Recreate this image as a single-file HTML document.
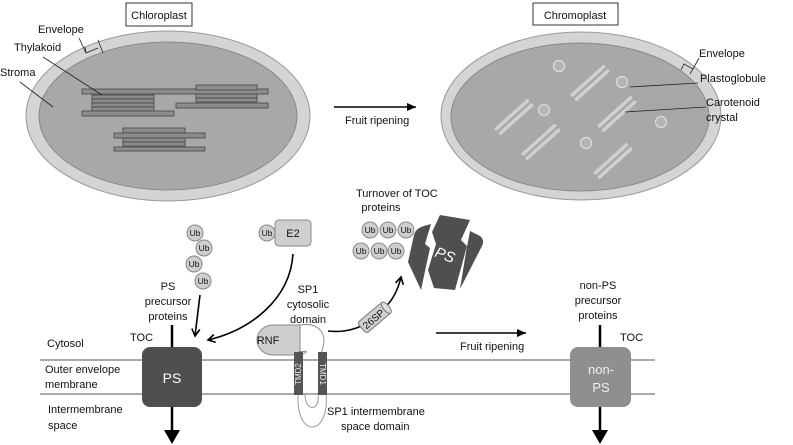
<!DOCTYPE html>
<html><head><meta charset="utf-8"><style>
html,body{margin:0;padding:0;background:#fff;}
svg{display:block;font-family:"Liberation Sans",sans-serif;}
</style></head><body>
<svg width="793" height="445" viewBox="0 0 793 445" xmlns="http://www.w3.org/2000/svg">
<defs>
<marker id="ah" markerWidth="10" markerHeight="10" refX="8" refY="5" orient="auto" markerUnits="userSpaceOnUse"><path d="M1,1 L8,5 L1,9" fill="none" stroke="#000" stroke-width="1.6"/></marker>
<marker id="at" markerWidth="10" markerHeight="10" refX="9" refY="5" orient="auto" markerUnits="userSpaceOnUse"><path d="M0,1 L9,5 L0,9 Z" fill="#000"/></marker>
</defs>
<g font-size="11.5" fill="#111">
<!-- Chloroplast -->
<rect x="126" y="3" width="66" height="23" fill="#fff" stroke="#333"/>
<text x="159" y="19" text-anchor="middle" font-size="11">Chloroplast</text>
<ellipse cx="168" cy="116" rx="142" ry="85" fill="#d4d4d4" stroke="#999"/>
<ellipse cx="168" cy="116" rx="129" ry="74" fill="#a8a8a8" stroke="#888"/>
<g fill="#8c8c8c" stroke="#444" stroke-width="0.8">
<rect x="82" y="89" width="186" height="5"/>
<rect x="92" y="95" width="62" height="4"/><rect x="92" y="99" width="62" height="4"/><rect x="92" y="103" width="62" height="4"/><rect x="92" y="107" width="62" height="4"/>
<rect x="82" y="111" width="92" height="5"/>
<rect x="196" y="85" width="61" height="5"/>
<rect x="196" y="94" width="61" height="4"/><rect x="196" y="98" width="61" height="4"/>
<rect x="176" y="103" width="92" height="5"/>
<rect x="123" y="128" width="62" height="5"/>
<rect x="114" y="133" width="91" height="5"/>
<rect x="123" y="138" width="62" height="4"/><rect x="123" y="142" width="62" height="4"/>
<rect x="114" y="147" width="91" height="4"/>
</g>
<text x="38" y="33" font-size="11">Envelope</text>
<text x="14" y="51" font-size="11">Thylakoid</text>
<text x="0" y="76" font-size="11">Stroma</text>
<path d="M79,38 L86,53 L98,48 M98,40 L103,53" fill="none" stroke="#222" stroke-width="0.8"/>
<path d="M86,53 L85,47" stroke="#222" stroke-width="0.8"/>
<line x1="43" y1="57" x2="102" y2="95" stroke="#222" stroke-width="0.8"/>
<line x1="20" y1="82" x2="53" y2="107" stroke="#222" stroke-width="0.8"/>
<!-- top fruit ripening -->
<line x1="334" y1="107" x2="416" y2="107" stroke="#000" stroke-width="1.6" marker-end="url(#at)"/>
<text x="345" y="124" font-size="11">Fruit ripening</text>
<!-- Chromoplast -->
<rect x="533" y="3" width="85" height="22" fill="#fff" stroke="#333"/>
<text x="575" y="19" text-anchor="middle" font-size="11">Chromoplast</text>
<ellipse cx="581" cy="116" rx="140" ry="84" fill="#d4d4d4" stroke="#999"/>
<ellipse cx="580" cy="117" rx="129" ry="74" fill="#a8a8a8" stroke="#888"/>
<g fill="#d0d0d0" stroke="#aaa" stroke-width="0.6">
<g transform="translate(590,83) rotate(-42)"><rect x="-23" y="-5" width="46" height="4" rx="2"/><rect x="-23" y="1" width="46" height="4" rx="2"/></g>
<g transform="translate(514,117) rotate(-42)"><rect x="-23" y="-5" width="46" height="4" rx="2"/><rect x="-23" y="1" width="46" height="4" rx="2"/></g>
<g transform="translate(617,114) rotate(-42)"><rect x="-23" y="-5" width="46" height="4" rx="2"/><rect x="-23" y="1" width="46" height="4" rx="2"/></g>
<g transform="translate(541,142) rotate(-42)"><rect x="-23" y="-5" width="46" height="4" rx="2"/><rect x="-23" y="1" width="46" height="4" rx="2"/></g>
<g transform="translate(613,161) rotate(-42)"><rect x="-23" y="-5" width="46" height="4" rx="2"/><rect x="-23" y="1" width="46" height="4" rx="2"/></g>
</g>
<g fill="#b4b4b4" stroke="#ddd" stroke-width="1.2">
<circle cx="559" cy="66" r="5.5"/><circle cx="622" cy="82" r="5.5"/><circle cx="544" cy="110" r="5.5"/><circle cx="661" cy="122" r="5.5"/><circle cx="586" cy="143" r="5.5"/>
</g>
<text x="699" y="57" font-size="11">Envelope</text>
<text x="700" y="82" font-size="11">Plastoglobule</text>
<text x="706" y="106" font-size="11">Carotenoid</text>
<text x="706" y="121" font-size="11">crystal</text>
<path d="M681,70 L684,64 L693,69 L690,74 M693,69 L699,58" fill="none" stroke="#222" stroke-width="0.8"/>
<line x1="630" y1="87" x2="698" y2="83" stroke="#222" stroke-width="0.8"/>
<line x1="625" y1="112" x2="706" y2="107" stroke="#222" stroke-width="0.8"/>
<!-- membranes -->
<line x1="40" y1="360" x2="655" y2="360" stroke="#555" stroke-width="1"/>
<line x1="40" y1="394" x2="655" y2="394" stroke="#555" stroke-width="1"/>
<text x="47" y="347" font-size="11">Cytosol</text>
<text x="45" y="373" font-size="11">Outer envelope</text>
<text x="45" y="388" font-size="11">membrane</text>
<text x="48" y="413" font-size="11">Intermembrane</text>
<text x="48" y="429" font-size="11">space</text>
<!-- PS TOC -->
<line x1="172" y1="325" x2="172" y2="350" stroke="#000" stroke-width="2.5"/>
<line x1="172" y1="405" x2="172" y2="432" stroke="#000" stroke-width="2.5"/>
<path d="M164,430 L180,430 L172,444 Z" fill="#000"/>
<rect x="142" y="347" width="60" height="60" rx="8" fill="#4f4f4f"/>
<text x="172" y="383" text-anchor="middle" fill="#fff" font-size="14">PS</text>
<text x="130" y="341" font-size="11">TOC</text>
<text x="168" y="290" text-anchor="middle" font-size="11">PS</text>
<text x="168" y="305" text-anchor="middle" font-size="11">precursor</text>
<text x="168" y="320" text-anchor="middle" font-size="11">proteins</text>
<!-- non-PS -->
<line x1="600" y1="325" x2="600" y2="350" stroke="#000" stroke-width="2.5"/>
<line x1="600" y1="405" x2="600" y2="432" stroke="#000" stroke-width="2.5"/>
<path d="M592,430 L608,430 L600,444 Z" fill="#000"/>
<rect x="570" y="347" width="61" height="60" rx="8" fill="#8f8f8f"/>
<text x="601" y="374" text-anchor="middle" fill="#eee" font-size="13">non-</text>
<text x="601" y="392" text-anchor="middle" fill="#eee" font-size="13">PS</text>
<text x="620" y="341" font-size="11">TOC</text>
<text x="598" y="289" text-anchor="middle" font-size="11">non-PS</text>
<text x="598" y="304" text-anchor="middle" font-size="11">precursor</text>
<text x="598" y="319" text-anchor="middle" font-size="11">proteins</text>
<!-- bottom fruit ripening -->
<line x1="436" y1="333" x2="526" y2="333" stroke="#000" stroke-width="1.6" marker-end="url(#at)"/>
<text x="460" y="350" font-size="11">Fruit ripening</text>
<!-- Ub chain -->
<g fill="#cfcfcf" stroke="#888">
<circle cx="195" cy="233" r="8"/><circle cx="204" cy="248" r="8"/><circle cx="194" cy="264" r="8"/><circle cx="203" cy="281" r="8"/>
<circle cx="267" cy="233" r="8"/>
<circle cx="370" cy="230" r="8"/><circle cx="388" cy="230" r="8"/><circle cx="406" cy="230" r="8"/>
<circle cx="361" cy="251" r="8"/><circle cx="379" cy="251" r="8"/><circle cx="396" cy="251" r="8"/>
</g>
<g font-size="8.5" text-anchor="middle">
<text x="195" y="236">Ub</text><text x="204" y="251">Ub</text><text x="194" y="267">Ub</text><text x="203" y="284">Ub</text>
<text x="267" y="236">Ub</text>
<text x="370" y="233">Ub</text><text x="388" y="233">Ub</text><text x="406" y="233">Ub</text>
<text x="361" y="254">Ub</text><text x="379" y="254">Ub</text><text x="396" y="254">Ub</text>
</g>
<rect x="275" y="220" width="36" height="26" rx="4" fill="#cfcfcf" stroke="#888"/>
<text x="293" y="237" text-anchor="middle" font-size="11">E2</text>
<line x1="200" y1="295" x2="195" y2="336" stroke="#000" stroke-width="1.6" marker-end="url(#ah)"/>
<path d="M293,254 C290,300 250,330 208,340" fill="none" stroke="#000" stroke-width="1.6" marker-end="url(#ah)"/>
<text x="308" y="293" text-anchor="middle" font-size="11">SP1</text>
<text x="308" y="308" text-anchor="middle" font-size="11">cytosolic</text>
<text x="308" y="323" text-anchor="middle" font-size="11">domain</text>
<text x="356" y="197" font-size="11">Turnover of TOC</text>
<text x="381" y="211" text-anchor="middle" font-size="11">proteins</text>
<!-- PS fragments -->
<g fill="#4f4f4f">
<path d="M408,262 L414,235 Q416,228 424,226 L431,224 L425,244 L430,248 L421,290 Z"/>
<path d="M432,232 L440,215 L470,220 L461,240 L467,246 L455,290 L434,288 L428,270 L436,244 Z"/>
<path d="M470,231 L480,236 Q485,240 482,246 L460,289 L466,252 Z"/>
</g>
<text x="445" y="260" fill="#fff" font-size="15" font-style="italic" transform="rotate(20 445 255)" text-anchor="middle">PS</text>
<!-- RNF / SP1 -->
<path d="M300,325 L273,325 A16,15 0 0 0 273,355 L300,355 Z" fill="#cfcfcf" stroke="#888"/>
<path d="M300,325 C320,322 328,335 322,350 L322,356 M300,355 C308,352 310,350 298,352" fill="#fff" stroke="#888"/>
<text x="268" y="344" text-anchor="middle" font-size="11">RNF</text>
<path d="M298,394 C296,440 330,436 326,394 M305,394 C305,412 320,412 318,394" fill="none" stroke="#999"/>
<rect x="294" y="352" width="9" height="43" fill="#555"/>
<rect x="318" y="352" width="9" height="43" fill="#555"/>
<text x="0" y="0" font-size="8" fill="#eee" transform="translate(301,374) rotate(-90)" text-anchor="middle">TMD2</text>
<text x="0" y="0" font-size="8" fill="#eee" transform="translate(320,374) rotate(90)" text-anchor="middle">TMD1</text>
<text x="327" y="415" font-size="11">SP1 intermembrane</text>
<text x="341" y="430" font-size="11">space domain</text>
<!-- 26SP -->
<path d="M328,331 C345,333 360,328 368,322 M382,310 C392,302 398,290 401,277" fill="none" stroke="#000" stroke-width="1.6" marker-end="url(#ah)"/>
<g transform="translate(374,318) rotate(-40)">
<rect x="-16" y="-7" width="32" height="14" rx="3" fill="#cfcfcf" stroke="#777"/>
<ellipse cx="16" cy="0" rx="3" ry="7" fill="#ddd" stroke="#777"/>
<text x="-1" y="4" text-anchor="middle" font-size="10">26SP</text>
</g>
</g>
</svg>
</body></html>
